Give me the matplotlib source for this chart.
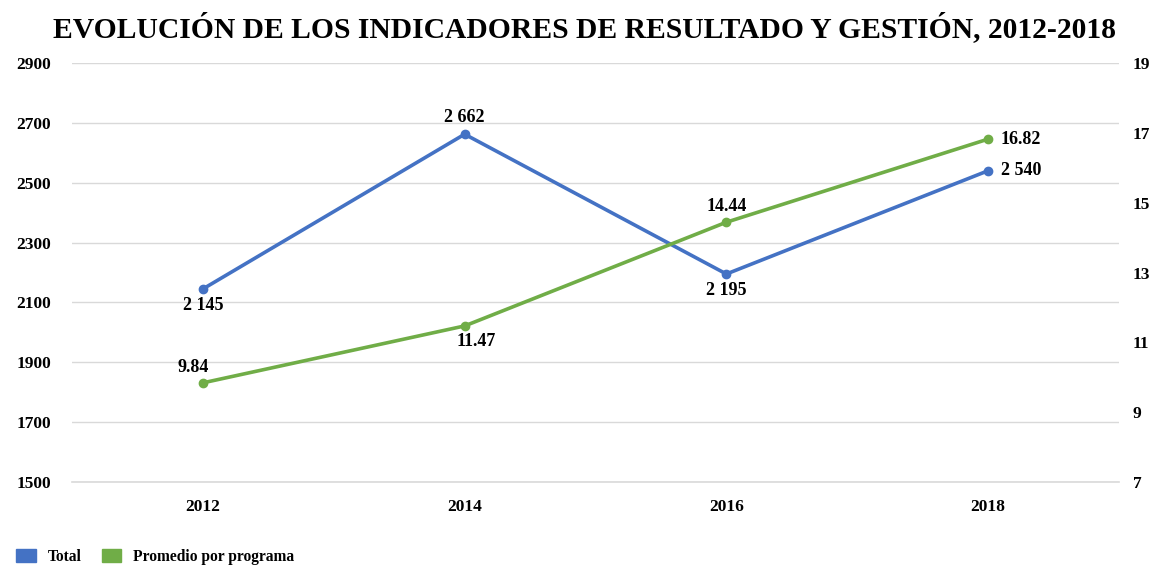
import matplotlib

matplotlib.use("Agg")
import matplotlib.pyplot as plt
from matplotlib.patches import Patch

years = ["2012", "2014", "2016", "2018"]
total = [2145, 2662, 2195, 2540]
promedio = [9.84, 11.47, 14.44, 16.82]
total_labels = ["2 145", "2 662", "2 195", "2 540"]
promedio_labels = ["9.84", "11.47", "14.44", "16.82"]
left_ticks = [1500, 1700, 1900, 2100, 2300, 2500, 2700, 2900]
right_ticks = [7, 9, 11, 13, 15, 17, 19]

BLUE = "#4472C4"
GREEN = "#70AD47"
GRID = "#D9D9D9"

plt.rcParams.update({
    "font.family": ["Liberation Serif", "DejaVu Serif"],
    "font.weight": "bold",
})

fig = plt.figure(figsize=(11.58, 5.72), dpi=100)
ax = fig.add_axes([0.0622, 0.1573, 0.9041, 0.7326])
ax2 = ax.twinx()

x = list(range(len(years)))
ax.plot(x, total, color=BLUE, lw=2.6, marker="o", ms=6, zorder=3)
ax2.plot(x, promedio, color=GREEN, lw=2.6, marker="o", ms=6, zorder=3)

ax.set_xlim(-0.5, len(years) - 0.5)
ax.set_ylim(1500, 2900)
ax2.set_ylim(7, 19)
ax.set_yticks(left_ticks)
ax2.set_yticks(right_ticks)
ax.set_xticks(x)
ax.set_xticklabels(years)

for a in (ax, ax2):
    for s in a.spines.values():
        s.set_visible(False)
    a.tick_params(length=0, labelsize=12.5)
ax.spines["bottom"].set_visible(True)
ax.spines["bottom"].set_color(GRID)
ax.spines["bottom"].set_linewidth(1.2)
ax.tick_params(axis="y", pad=15)
ax.tick_params(axis="x", pad=12)
ax2.tick_params(axis="y", pad=10)
ax.grid(axis="y", color=GRID, lw=1.0)
ax.set_axisbelow(True)

# data labels: (dx, dy) in points, ha, va
total_pos = [(0, -6, "center", "top"), (0, 6, "center", "bottom"),
             (0, -6, "center", "top"), (9, 0, "left", "center")]
prom_pos = [(-7, 5, "center", "bottom"), (8, -5, "center", "top"),
            (0, 5, "center", "bottom"), (9, 0, "left", "center")]
for i, (v, lab) in enumerate(zip(total, total_labels)):
    dx, dy, ha, va = total_pos[i]
    ax.annotate(lab, (x[i], v), xytext=(dx, dy), textcoords="offset points",
                ha=ha, va=va, fontsize=13, fontweight="bold")
for i, (v, lab) in enumerate(zip(promedio, promedio_labels)):
    dx, dy, ha, va = prom_pos[i]
    ax2.annotate(lab, (x[i], v), xytext=(dx, dy), textcoords="offset points",
                 ha=ha, va=va, fontsize=13, fontweight="bold")

fig.suptitle("EVOLUCIÓN DE LOS INDICADORES DE RESULTADO Y GESTIÓN, 2012-2018",
             x=0.505, y=0.978, fontsize=21.3, fontweight="bold")

handles = [Patch(facecolor=BLUE, edgecolor=BLUE, label="Total"),
           Patch(facecolor=GREEN, edgecolor=GREEN, label="Promedio por programa")]
fig.legend(handles=handles, loc="lower left", bbox_to_anchor=(0.002, -0.012), ncol=2,
           frameon=False, fontsize=11.2, handlelength=1.25, handleheight=0.9,
           columnspacing=1.3, handletextpad=0.75)

fig.savefig("out.png", dpi=100, facecolor="white")
